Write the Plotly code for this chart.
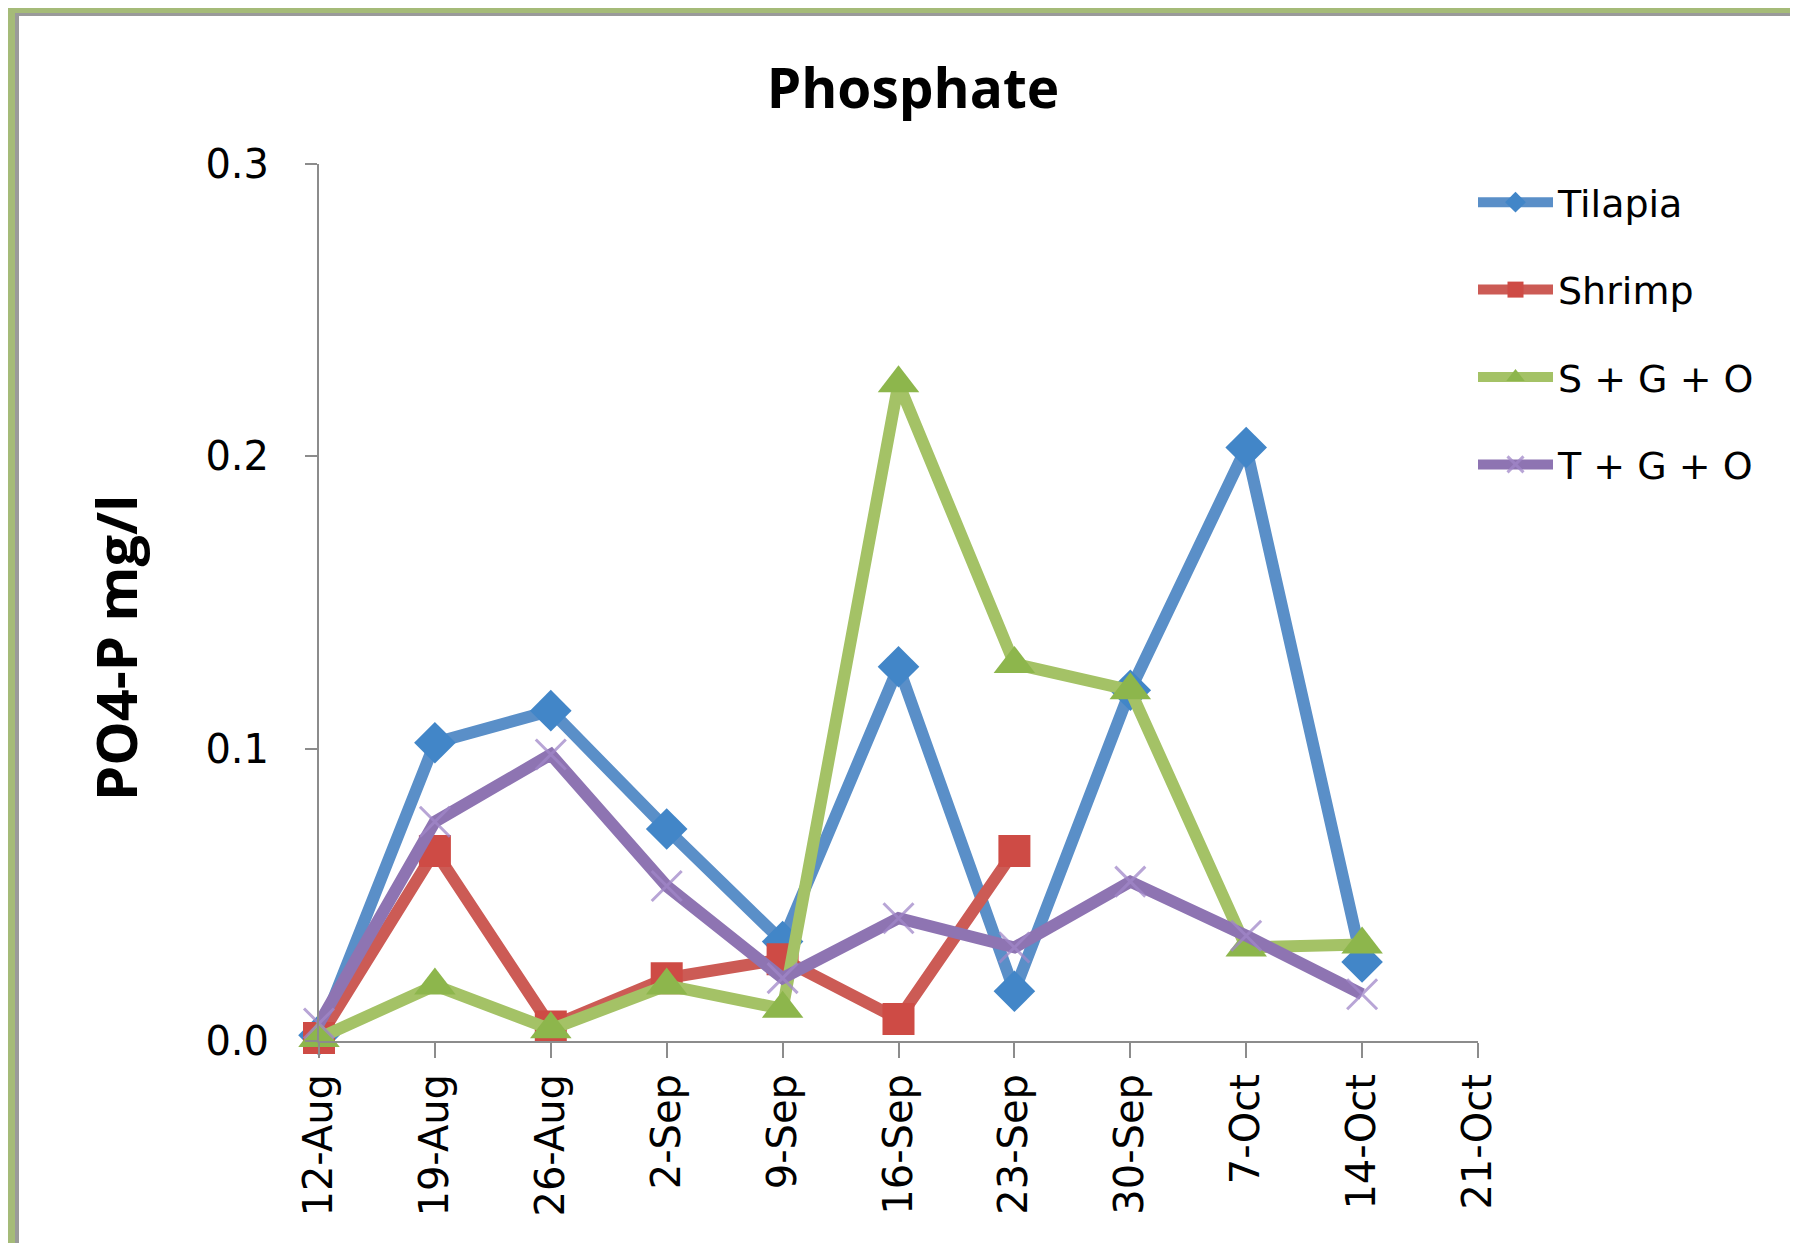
import plotly.graph_objects as go

dates = ["2010-08-12", "2010-08-19", "2010-08-26", "2010-09-02", "2010-09-09",
         "2010-09-16", "2010-09-23", "2010-09-30", "2010-10-07", "2010-10-14"]
tick_dates = dates + ["2010-10-21"]
tick_labels = ["12-Aug", "19-Aug", "26-Aug", "2-Sep", "9-Sep", "16-Sep",
               "23-Sep", "30-Sep", "7-Oct", "14-Oct", "21-Oct"]

tilapia = [0.002, 0.102, 0.113, 0.0725, 0.034, 0.128, 0.017, 0.12, 0.203, 0.027]
shrimp = [0.001, 0.065, 0.005, 0.0215, 0.028, 0.0075, 0.065, None, None, None]
sgo = [0.001, 0.019, 0.004, 0.019, 0.011, 0.225, 0.129, 0.12, 0.032, 0.033]
tgo = [0.006, 0.075, 0.098, 0.053, 0.0215, 0.042, 0.032, 0.0545, 0.036, 0.016]

W, H = 1798, 1243
L, R, T, B = 311, 1470, 156, 1033


def px(x):
    return (x - L) / (R - L)


def py(y):
    return (B - y) / (B - T)


fig = go.Figure()

series = [
    ("Tilapia", tilapia, "#5A8FC8", dict(symbol="diamond", size=32, color="#4286C8")),
    ("Shrimp", shrimp, "#CC5B55", dict(symbol="square", size=32, color="#CE4B45")),
    ("S + G + O", sgo, "#A4C266", dict(symbol="triangle-up", size=36, color="#8DB64C")),
    ("T + G + O", tgo, "#8E74B2", dict(symbol="x-thin", size=30,
                                        line=dict(width=3, color="rgba(160,135,200,0.75)"))),
]

for i, (name, vals, lc, mk) in enumerate(series):
    fig.add_trace(go.Scatter(
        x=dates, y=vals, name=name, mode="lines+markers",
        line=dict(color=lc, width=12), marker=mk, cliponaxis=False,
        legendgroup=f"g{i}", connectgaps=False,
    ))

font_ticks = dict(family="DejaVu Sans", size=40, color="black")

fig.update_layout(
    width=W, height=H,
    margin=dict(l=L, r=W - R, t=T, b=H - B),
    paper_bgcolor="white", plot_bgcolor="white",
    title=dict(text="<b>Phosphate</b>", x=905 / W, xref="container", xanchor="center",
               y=1 - 81 / H, yref="container", yanchor="middle",
               font=dict(family="Open Sans", size=55, color="black")),
    showlegend=True,
    legend=dict(x=px(1465), xanchor="left", y=py(163), yanchor="top",
                font=dict(family="DejaVu Sans", size=38, color="black"),
                itemwidth=75, tracegroupgap=35, bgcolor="rgba(0,0,0,0)"),
    xaxis=dict(type="date", range=["2010-08-12", "2010-10-21"],
               tickvals=tick_dates, ticktext=tick_labels, tickangle=-90,
               tickfont=font_ticks, showgrid=False, zeroline=False,
               showline=True, linecolor="#8C8C8C", linewidth=2,
               ticks="outside", ticklen=15, tickwidth=2, tickcolor="#8C8C8C"),
    yaxis=dict(range=[0, 0.3], tickvals=[0, 0.1, 0.2, 0.3],
               ticktext=["0.0", "0.1", "0.2", "0.3"], tickfont=font_ticks,
               showgrid=False, zeroline=False, showline=True,
               linecolor="#8C8C8C", linewidth=2, ticks="outside",
               ticklen=12, tickwidth=2, tickcolor="#8C8C8C", ticklabelstandoff=28),
    annotations=[dict(text="<b>PO4-P mg/l</b>", textangle=-90, xref="paper", yref="paper",
                      x=px(107), y=py(640), xanchor="center", yanchor="middle",
                      showarrow=False,
                      font=dict(family="Open Sans", size=56, color="black"))],
    shapes=[
        dict(type="rect", xref="paper", yref="paper", x0=px(0), x1=px(W), y0=py(0), y1=py(5),
             fillcolor="#A5BB78", line=dict(width=0), layer="below"),
        dict(type="rect", xref="paper", yref="paper", x0=px(0), x1=px(7), y0=py(0), y1=py(H),
             fillcolor="#A5BB78", line=dict(width=0), layer="below"),
        dict(type="rect", xref="paper", yref="paper", x0=px(7), x1=px(W), y0=py(5), y1=py(8),
             fillcolor="#9A9A9A", line=dict(width=0), layer="below"),
        dict(type="rect", xref="paper", yref="paper", x0=px(7), x1=px(11), y0=py(5), y1=py(H),
             fillcolor="#9A9A9A", line=dict(width=0), layer="below"),
    ],
)

fig.write_html("out.html")
